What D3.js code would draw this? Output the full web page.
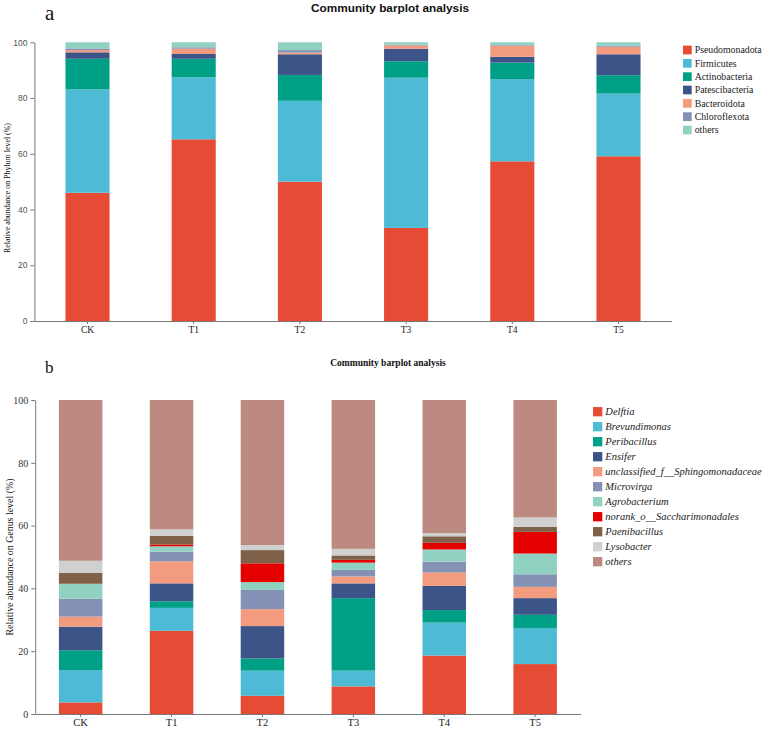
<!DOCTYPE html>
<html>
<head>
<meta charset="utf-8">
<script src="https://cdn.jsdelivr.net/npm/d3@7"></script>
<style>
  body { margin: 0; background: #fff; }
  svg { display: block; }
</style>
</head>
<body>
<div id="chart"></div>
<script>
const samples = ["CK", "T1", "T2", "T3", "T4", "T5"];

// panel a - phylum level (%)
const phyla = ["Pseudomonadota", "Firmicutes", "Actinobacteria", "Patescibacteria", "Bacteroidota", "Chloroflexota", "others"];
const pseudomonadota = [46.0, 65.2, 50.0, 33.4, 57.3, 59.1];
const firmicutes = [37.1, 22.2, 29.0, 53.9, 29.5, 22.5];
const actinobacteria = [11.0, 6.7, 9.3, 5.9, 5.9, 6.6];
const patescibacteria = [2.3, 1.7, 7.4, 4.5, 2.1, 7.5];
const bacteroidota = [0.8, 1.9, 0.6, 1.2, 4.0, 2.7];
const chloroflexota = [0.6, 0.5, 0.9, 0.3, 0.2, 0.4];
const phylumOthers = [2.2, 1.8, 2.8, 0.8, 1.0, 1.2];
const phylaColors = ["#E64B35", "#4DBBD5", "#00A087", "#3C5488", "#F39B7F", "#8491B4", "#91D1C2"];

// panel b - genus level (%)
const genera = ["Delftia", "Brevundimonas", "Peribacillus", "Ensifer", "unclassified_f__Sphingomonadaceae", "Microvirga", "Agrobacterium", "norank_o__Saccharimonadales", "Paenibacillus", "Lysobacter", "others"];
const delftia = [3.7, 26.5, 5.8, 8.8, 18.6, 15.9];
const brevundimonas = [10.3, 7.3, 8.0, 5.0, 10.5, 11.5];
const peribacillus = [6.3, 2.1, 3.9, 23.1, 4.0, 4.2];
const ensifer = [7.5, 5.7, 10.3, 4.7, 7.7, 5.3];
const unclassifiedSphingo = [3.2, 7.0, 5.4, 2.2, 4.3, 3.6];
const microvirga = [5.7, 3.1, 6.1, 2.1, 3.4, 4.0];
const agrobacterium = [4.7, 1.7, 2.5, 2.3, 3.9, 6.6];
const norankSaccharimonadales = [0.1, 0.6, 6.0, 0.9, 2.1, 6.9];
const paenibacillus = [3.4, 2.7, 4.2, 1.4, 2.1, 1.6];
const lysobacter = [3.9, 2.1, 1.6, 2.1, 1.0, 3.0];
const genusOthers = [51.2, 41.2, 46.2, 47.4, 42.4, 37.4];
const generaColors = ["#E64B35", "#4DBBD5", "#00A087", "#3C5488", "#F39B7F", "#8491B4", "#91D1C2", "#E50000", "#7E6148", "#D0D0D0", "#BC8A80"];

const yTicks = [0, 20, 40, 60, 80, 100];

const phylumSeries = [pseudomonadota, firmicutes, actinobacteria, patescibacteria, bacteroidota, chloroflexota, phylumOthers];
const genusSeries = [delftia, brevundimonas, peribacillus, ensifer, unclassifiedSphingo, microvirga, agrobacterium, norankSaccharimonadales, paenibacillus, lysobacter, genusOthers];

function buildRows(keys, series) {
    return samples.map((s, i) => {
        const row = { sample: s };
        keys.forEach((k, j) => row[k] = series[j][i]);
        return row;
    });
}

const serif = "'Liberation Serif', 'Times New Roman', 'DejaVu Serif', serif";
const sans = "'Liberation Sans', Arial, sans-serif";

const svg = d3.select("#chart").append("svg")
    .attr("width", 767)
    .attr("height", 729);

function drawPanel(opt) {
    const rows = buildRows(opt.keys, opt.series);
    const stack = d3.stack().keys(opt.keys)(rows);
    const color = d3.scaleOrdinal().domain(opt.keys).range(opt.colors);

    const x = d3.scaleBand()
        .domain(samples)
        .range(opt.xRange)
        .paddingInner(opt.padding)
        .paddingOuter(opt.padding / 2);

    const y = d3.scaleLinear()
        .domain([0, 100])
        .range(opt.yRange);

    const g = svg.append("g");

    g.selectAll(".layer")
        .data(stack)
        .enter().append("g")
        .attr("class", "layer")
        .attr("fill", d => color(d.key))
        .selectAll("rect")
        .data(d => d)
        .enter().append("rect")
        .attr("x", d => x(d.data.sample))
        .attr("y", d => y(d[1]))
        .attr("width", x.bandwidth())
        .attr("height", d => Math.max(0, y(d[0]) - y(d[1])));

    const yAxis = g.append("g")
        .attr("transform", `translate(${opt.xRange[0]},0)`)
        .call(d3.axisLeft(y).tickValues(yTicks).tickSize(4).tickSizeOuter(0).tickPadding(3));
    yAxis.selectAll("text")
        .style("font-family", opt.tickFont)
        .style("font-size", opt.tickSize + "px")
        .attr("fill", opt.tickColor);

    const xAxis = g.append("g")
        .attr("transform", `translate(0,${opt.yRange[0]})`)
        .call(d3.axisBottom(x).tickSize(3).tickSizeOuter(0).tickPadding(2));
    xAxis.selectAll("text")
        .style("font-family", serif)
        .style("font-size", opt.xTickSize + "px")
        .attr("fill", "#222");

    g.selectAll(".domain, .tick line").attr("stroke", "#777");

    // y label
    g.append("text")
        .attr("transform", `translate(${opt.yLabelX},${opt.yLabelY}) rotate(-90)`)
        .attr("text-anchor", "middle")
        .attr("textLength", opt.yLabelLen)
        .attr("lengthAdjust", "spacingAndGlyphs")
        .style("font-family", serif)
        .style("font-size", opt.yLabelSize + "px")
        .attr("fill", "#111")
        .text(opt.yLabel);

    // title
    g.append("text")
        .attr("x", opt.titleX)
        .attr("y", opt.titleY)
        .attr("text-anchor", "middle")
        .style("font-family", opt.titleFont)
        .style("font-size", opt.titleSize + "px")
        .style("font-weight", "bold")
        .attr("fill", "#111")
        .text("Community barplot analysis");

    // panel letter
    g.append("text")
        .attr("x", 45)
        .attr("y", opt.letterY)
        .style("font-family", serif)
        .style("font-size", opt.letterSize + "px")
        .attr("fill", "#111")
        .text(opt.letter);

    // legend
    const legend = g.append("g")
        .attr("transform", `translate(${opt.legendX},${opt.legendY})`);
    const item = legend.selectAll(".item")
        .data(opt.keys)
        .enter().append("g")
        .attr("transform", (d, i) => `translate(0,${i * opt.legendStep})`);
    item.append("rect")
        .attr("x", 0)
        .attr("y", -opt.swatch / 2)
        .attr("width", opt.swatch)
        .attr("height", opt.swatch)
        .attr("fill", d => color(d));
    item.append("text")
        .attr("x", opt.swatch + 3)
        .attr("y", 0)
        .attr("dy", "0.35em")
        .style("font-family", serif)
        .style("font-size", opt.legendSize + "px")
        .style("font-style", opt.italic ? "italic" : "normal")
        .attr("fill", "#222")
        .text(d => d);
}

drawPanel({
    keys: phyla, series: phylumSeries, colors: phylaColors,
    xRange: [34.4, 671.6], yRange: [321, 42.3], padding: 0.585,
    tickFont: sans, tickSize: 8.5, tickColor: "#555", xTickSize: 9.5,
    yLabel: "Relative abundance on Phylum level (%)", yLabelX: 10, yLabelY: 188, yLabelLen: 130, yLabelSize: 9,
    titleX: 390, titleY: 12, titleFont: sans, titleSize: 11.8,
    letter: "a", letterY: 20, letterSize: 21,
    legendX: 683, legendY: 50, legendStep: 13.33, swatch: 8.7, legendSize: 9.8, italic: false
});

drawPanel({
    keys: genera, series: genusSeries, colors: generaColors,
    xRange: [35.2, 580.6], yRange: [714, 400], padding: 0.5215,
    tickFont: serif, tickSize: 10, tickColor: "#333", xTickSize: 10.5,
    yLabel: "Relative abundance on Genus level (%)", yLabelX: 13, yLabelY: 557, yLabelLen: 157, yLabelSize: 10,
    titleX: 388, titleY: 366, titleFont: serif, titleSize: 9.5,
    letter: "b", letterY: 373, letterSize: 17,
    legendX: 593, legendY: 411.7, legendStep: 15, swatch: 9.3, legendSize: 10.5, italic: true
});
</script>
</body>
</html>
